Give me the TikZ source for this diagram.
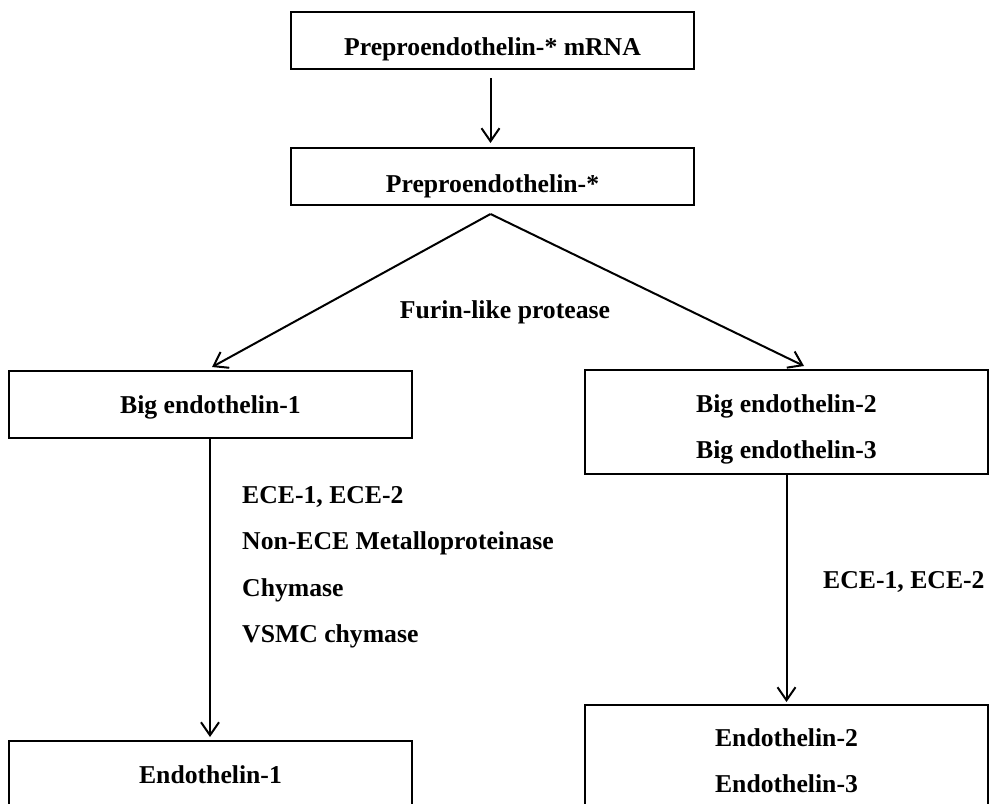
\documentclass[tikz,border=0pt]{standalone}
\usepackage{fontspec}
\setmainfont{Liberation Serif}
\usetikzlibrary{arrows.meta}
\begin{document}
\begin{tikzpicture}[x=1pt,y=-1pt,
  box/.style={draw=black, line width=2pt, minimum width=403pt, inner sep=0pt, align=center,
    font=\fontsize{25.7}{46}\selectfont\bfseries},
  lbl/.style={anchor=base west, inner sep=0pt, font=\fontsize{25.7}{30}\selectfont\bfseries},
  arr/.style={line width=2pt, -{Straight Barb[length=13pt,width=18pt]}}]
\useasboundingbox (0,0) rectangle (990,803);
\clip (0,0) rectangle (990,803);
\node[box, minimum height=57pt, text height=30pt, text depth=1pt] (b1) at (492.5,40.5) {Preproendothelin-* mRNA};
\node[box, minimum height=57pt, text height=31pt, text depth=0pt] (b2) at (492.5,176.5) {Preproendothelin-*};
\node[box, minimum height=67pt, text height=20pt, text depth=3pt] (b3) at (210.5,404.5) {Big endothelin-1};
\node[box, minimum height=104pt, text height=72pt, text depth=0pt] (b4) at (786.5,422) {Big endothelin-2\\Big endothelin-3};
\node[box, minimum height=80pt, text height=14pt, text depth=10pt] (b5) at (210.5,781) {Endothelin-1};
\node[box, minimum height=120pt, text height=54pt, text depth=0pt] (b6) at (786.5,765) {Endothelin-2\\Endothelin-3};
\coordinate (apex) at ([xshift=-2pt,yshift=-8pt]b2.south);
\draw[arr] ([xshift=-2pt,yshift=-8pt]b1.south) -- ([xshift=-2pt,yshift=4pt]b2.north);
\draw[arr] (apex) -- ([xshift=1.5pt,yshift=3pt]b3.north);
\draw[arr] (apex) -- ([xshift=17.5pt,yshift=3pt]b4.north);
\draw[arr] ([xshift=-0.5pt]b3.south) -- ([xshift=-0.5pt,yshift=3pt]b5.north);
\draw[arr] (b4.south) -- ([yshift=2pt]b6.north);
\node[lbl, anchor=base] (furin) at (505,318) {Furin-like protease};
\node[lbl] (l1) at (242,503) {ECE-1, ECE-2};
\node[lbl] (l2) at (242,549) {Non-ECE Metalloproteinase};
\node[lbl] (l3) at (242,596) {Chymase};
\node[lbl] (l4) at (242,642) {VSMC chymase};
\node[lbl] (r1) at (823,588) {ECE-1, ECE-2};
\end{tikzpicture}
\end{document}
